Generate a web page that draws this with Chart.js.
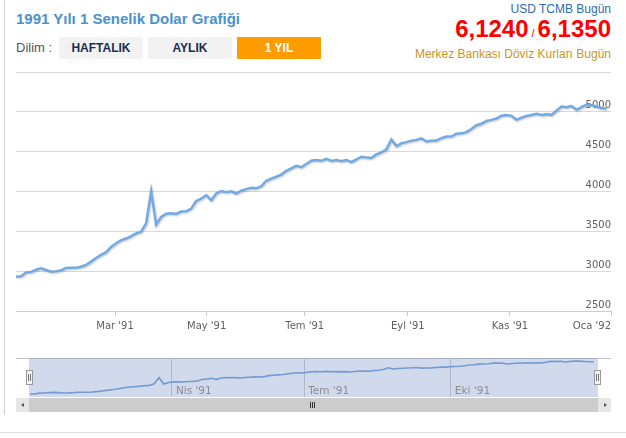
<!DOCTYPE html>
<html>
<head>
<meta charset="utf-8">
<script src="https://cdn.jsdelivr.net/npm/chart.js@4.4.1/dist/chart.umd.min.js"></script>
<style>
  html, body { margin: 0; padding: 0; background: #fff; }
  body { width: 626px; height: 438px; position: relative; overflow: hidden; font-family: "Liberation Sans", Arial, sans-serif; }
  .abs { position: absolute; }
  #title { left: 16px; top: 10px; font-size: 15px; line-height: 18px; font-weight: bold; color: #4a92cf; }
  #dilim { left: 16px; top: 40px; font-size: 13px; line-height: 15px; color: #555; }
  .btn { top: 37px; width: 84px; height: 22px; line-height: 22px; text-align: center; font-size: 12px; font-weight: bold; background: #f2f2f2; color: #1c2d50; }
  .btn.on { background: #ff9c00; color: #fff; }
  #usd { right: 15px; top: 2px; font-size: 12px; line-height: 14px; color: #2b6cb0; }
  #rates { right: 15px; top: 17px; font-size: 24px; line-height: 24px; font-weight: bold; color: #f00; white-space: nowrap; }
  #rates .sep { font-size: 11px; font-weight: normal; margin: 0 3px; }
  #mb { right: 15px; top: 47px; font-size: 12px; line-height: 14px; color: #c8961e; }
  #main { left: 0; top: 0; }
  #nav { left: 0; top: 350px; }
  .handle { top: 370px; width: 5px; height: 13px; background: #f2f2f2; border: 1px solid #999; }
  .handle::before { content: ""; position: absolute; left: 1px; top: 3px; width: 1px; height: 7px; background: #777; }
  .handle::after { content: ""; position: absolute; left: 3px; top: 3px; width: 1px; height: 7px; background: #777; }
</style>
</head>
<body>
<div class="abs" style="left:4px;top:0;width:1px;height:415px;background:#d0d0d0"></div>
<div class="abs" style="left:0;top:432px;width:626px;height:1px;background:#ddd"></div>

<div id="title" class="abs">1991 Yılı 1 Senelik Dolar Grafiği</div>
<div id="dilim" class="abs">Dilim :</div>
<div class="abs btn" style="left:59px">HAFTALIK</div>
<div class="abs btn" style="left:148px">AYLIK</div>
<div class="abs btn on" style="left:237px">1 YIL</div>

<div id="usd" class="abs">USD TCMB Bugün</div>
<div id="rates" class="abs">6,1240<span class="sep">/</span>6,1350</div>
<div id="mb" class="abs">Merkez Bankası Döviz Kurları Bugün</div>

<!-- navigator background pieces -->
<div class="abs" style="left:16px;top:358px;width:595px;height:1px;background:#c4c4c8"></div>
<div class="abs" style="left:29px;top:358px;width:569px;height:39px;background:rgba(102,133,194,0.3)"></div>

<canvas id="main" class="abs" width="626" height="345"></canvas>
<canvas id="nav" class="abs" width="626" height="70"></canvas>

<!-- scrollbar + handles -->
<div class="abs" style="left:16px;top:398px;width:595px;height:14px;background:#eee"></div>
<div class="abs" style="left:29px;top:398px;width:569px;height:14px;background:#cccccc"></div>
<div class="abs" style="left:16px;top:398px;width:13px;height:14px;background:#e6e6e6"></div>
<div class="abs" style="left:598px;top:398px;width:13px;height:14px;background:#e6e6e6"></div>
<div class="abs" style="left:21px;top:403px;width:0;height:0;border-top:2px solid transparent;border-bottom:2px solid transparent;border-right:3px solid #555"></div>
<div class="abs" style="left:604px;top:403px;width:0;height:0;border-top:2px solid transparent;border-bottom:2px solid transparent;border-left:3px solid #555"></div>
<div class="abs" style="left:310px;top:402px;width:1px;height:6px;background:#333"></div>
<div class="abs" style="left:312px;top:402px;width:1px;height:6px;background:#333"></div>
<div class="abs" style="left:314px;top:402px;width:1px;height:6px;background:#333"></div>
<div class="abs handle" style="left:26px"></div>
<div class="abs handle" style="left:594px"></div>

<script>
// USD/TL, 1991 - one value per ~equal step along the (ordinal) time axis
const usdValues = [
  2929, 2935, 2985, 2988, 3020, 3035, 3015, 2993, 2998, 3010,
  3040, 3042, 3042, 3055, 3080, 3120, 3165, 3205, 3238, 3305,
  3350, 3390, 3410, 3440, 3475, 3495, 3600, 4000, 3584, 3680,
  3722, 3727, 3718, 3750, 3752, 3785, 3880, 3910, 3955, 3890,
  3975, 4005, 3990, 4002, 3975, 4010, 4030, 4048, 4040, 4065,
  4135, 4162, 4185, 4212, 4260, 4290, 4322, 4305, 4345, 4386,
  4396, 4385, 4410, 4383, 4394, 4380, 4396, 4370, 4402, 4437,
  4427, 4420, 4466, 4490, 4530, 4652, 4570, 4604, 4620, 4638,
  4648, 4666, 4627, 4636, 4640, 4670, 4690, 4690, 4725, 4730,
  4745, 4785, 4832, 4850, 4885, 4899, 4916, 4952, 4960, 4950,
  4900, 4928, 4948, 4960, 4975, 4960, 4970, 4962, 5015, 5066,
  5058, 5072, 5025, 5058, 5090, 5085, 5065, 5045, 5042
];

// month ticks (position on the ordinal axis) and their labels
const tickPos = [0, 19.8, 38.1, 57.7, 78.3, 98.7, 118.9];
const tickLabels = ['', "Mar '91", "May '91", "Tem '91", "Eyl '91", "Kas '91", "Oca '92"];
const navTickPos = [29.7, 57.4, 88.1];
const navTickLabels = ["Nis '91", "Tem '91", "Eki '91"];
const xMax = 118.9;
const yMin = 2500, yMax = 5500, yStep = 500;

Chart.defaults.font.family = 'DejaVu Sans';
Chart.defaults.font.size = 10;
Chart.defaults.animation = false;

const points = usdValues.map((v, i) => ({ x: i, y: v }));

const shadow = {
  id: 'shadow',
  beforeDatasetsDraw(chart) {
    const c = chart.ctx;
    c.save();
    c.shadowColor = 'rgba(0,0,0,0.22)';
    c.shadowOffsetX = 1;
    c.shadowOffsetY = 1;
    c.shadowBlur = 2;
  },
  afterDatasetsDraw(chart) { chart.ctx.restore(); }
};

// navigator month labels sit inside the plot, left aligned next to their grid line
const navLabels = {
  id: 'navLabels',
  afterDraw(chart) {
    const c = chart.ctx, x = chart.scales.x, area = chart.chartArea;
    c.save();
    c.font = '10.5px "DejaVu Sans"';
    c.fillStyle = '#8c8c8c';
    c.textAlign = 'left';
    c.textBaseline = 'middle';
    navTickPos.forEach((p, i) => {
      c.fillText(navTickLabels[i], x.getPixelForValue(p) + 4, area.bottom - 6);
    });
    c.restore();
  }
};

new Chart(document.getElementById('main'), {
  type: 'line',
  data: {
    datasets: [{
      data: points,
      borderColor: '#74aae3',
      borderWidth: 2.5,
      pointRadius: 0,
      fill: false
    }]
  },
  options: {
    responsive: false,
    layout: { padding: { left: 16, right: 15, top: 72, bottom: 0 } },
    plugins: { legend: { display: false }, tooltip: { enabled: false } },
    scales: {
      x: {
        type: 'linear',
        min: 0,
        max: xMax,
        afterBuildTicks: s => { s.ticks = tickPos.map(v => ({ value: v })); },
        afterFit: s => { s.height = 34; s.paddingLeft = 0; s.paddingRight = 0; },
        ticks: {
          autoSkip: false,
          maxRotation: 0,
          align: 'inner',
          padding: 4,
          color: '#606060',
          callback: (v, i) => tickLabels[i]
        },
        grid: {
          drawOnChartArea: false,
          tickLength: 5,
          tickColor: ctx => ctx.index === 0 ? 'rgba(0,0,0,0)' : '#C0D0E0',
          color: '#C0D0E0'
        },
        border: { color: '#C0D0E0' }
      },
      y: {
        position: 'right',
        min: yMin,
        max: yMax,
        afterFit: s => { s.width = 0; },
        ticks: {
          stepSize: yStep,
          mirror: true,
          padding: 0,
          labelOffset: -6,
          color: '#606060',
          callback: v => v === yMax ? '' : String(v)
        },
        grid: { color: '#D8D8D8', drawTicks: false },
        border: { display: false }
      }
    }
  },
  plugins: [shadow]
});

new Chart(document.getElementById('nav'), {
  type: 'line',
  data: {
    datasets: [{
      data: points,
      borderColor: '#729ad3',
      borderWidth: 1.6,
      pointRadius: 0,
      fill: false
    }]
  },
  options: {
    responsive: false,
    layout: { padding: { left: 30, right: 28, top: 8, bottom: 0 } },
    plugins: { legend: { display: false }, tooltip: { enabled: false } },
    scales: {
      x: {
        type: 'linear',
        min: 0,
        max: xMax,
        afterBuildTicks: s => { s.ticks = navTickPos.map(v => ({ value: v })); },
        afterFit: s => { s.height = 23; s.paddingLeft = 0; s.paddingRight = 0; },
        ticks: { display: false },
        grid: { color: '#b0b8c8', drawTicks: false },
        border: { display: false }
      },
      y: {
        display: false,
        min: 2730,
        max: 5290
      }
    }
  },
  plugins: [navLabels]
});
</script>
</body>
</html>
